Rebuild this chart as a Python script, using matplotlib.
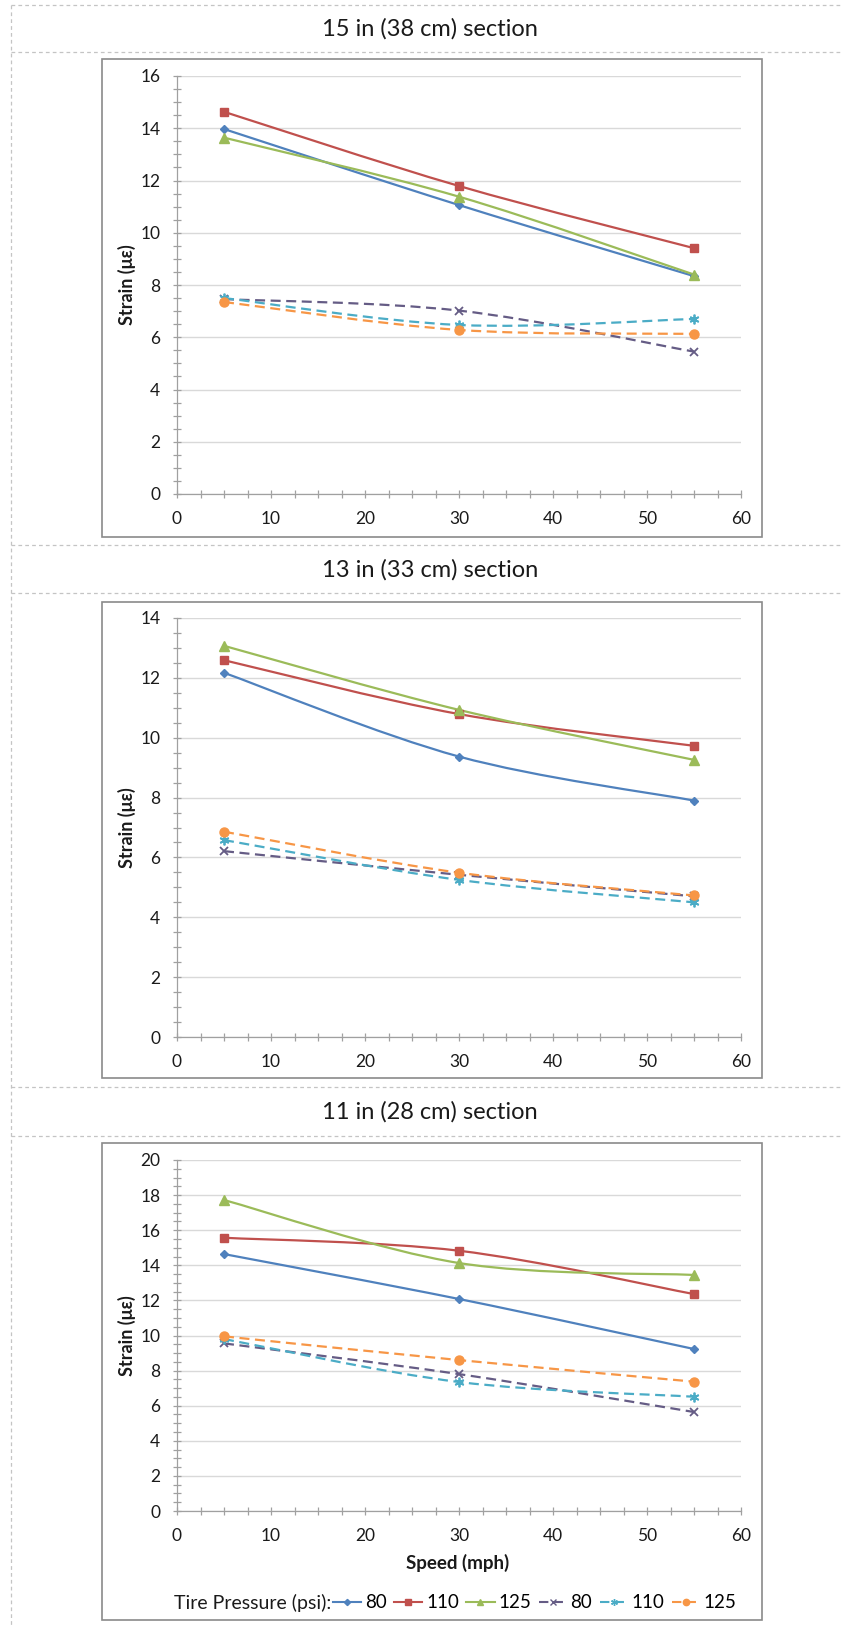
import matplotlib
matplotlib.use('Agg')
import matplotlib.pyplot as plt
from matplotlib.path import Path
from matplotlib.patches import PathPatch, Rectangle
from matplotlib.lines import Line2D
from matplotlib.ticker import MultipleLocator
import numpy as np

plt.rcParams['font.family'] = ['Lato', 'DejaVu Sans']

# ---------------- data ----------------
speed = [5, 30, 55]
titles = ['15 in (38 cm) section', '13 in (33 cm) section', '11 in (28 cm) section']
legend_labels = ['80', '110', '125', '80', '110', '125']
ylims = [16, 14, 20]

# 15 in (38 cm) section
s15_solid_80 = [13.97, 11.06, 8.34]
s15_solid_110 = [14.63, 11.79, 9.41]
s15_solid_125 = [13.64, 11.38, 8.40]
s15_dash_80 = [7.46, 7.02, 5.45]
s15_dash_110 = [7.50, 6.47, 6.70]
s15_dash_125 = [7.35, 6.28, 6.13]

# 13 in (33 cm) section
s13_solid_80 = [12.17, 9.37, 7.90]
s13_solid_110 = [12.59, 10.79, 9.73]
s13_solid_125 = [13.07, 10.93, 9.26]
s13_dash_80 = [6.21, 5.42, 4.70]
s13_dash_110 = [6.58, 5.25, 4.50]
s13_dash_125 = [6.86, 5.49, 4.73]

# 11 in (28 cm) section
s11_solid_80 = [14.64, 12.08, 9.23]
s11_solid_110 = [15.57, 14.83, 12.36]
s11_solid_125 = [17.72, 14.13, 13.45]
s11_dash_80 = [9.55, 7.80, 5.64]
s11_dash_110 = [9.80, 7.35, 6.51]
s11_dash_125 = [9.95, 8.60, 7.37]

panels = [
    [s15_solid_80, s15_solid_110, s15_solid_125, s15_dash_80, s15_dash_110, s15_dash_125],
    [s13_solid_80, s13_solid_110, s13_solid_125, s13_dash_80, s13_dash_110, s13_dash_125],
    [s11_solid_80, s11_solid_110, s11_solid_125, s11_dash_80, s11_dash_110, s11_dash_125],
]

# ---------------- styles ----------------
colors = ['#4F81BD', '#C0504D', '#9BBB59', '#655C85', '#4BACC6', '#F79646']
styles = ['-', '-', '-', (0, (4.5, 2.5)), (0, (4.5, 2.5)), (0, (4.5, 2.5))]
markers = ['D', 's', '^', 'x', (6, 2, 0), 'o']
msizes = [4.5, 6, 6.5, 6, 7, 6.5]

W, H = 843, 1625
fig = plt.figure(figsize=(W / 100, H / 100), dpi=100)


def fx(x):
    return x / W


def fy(y):
    return 1 - y / H


def smooth(ax, xs, ys, color, ls):
    pts = np.column_stack([xs, ys]).astype(float)
    n = len(pts)
    verts = [pts[0]]
    codes = [Path.MOVETO]
    for i in range(n - 1):
        p0 = pts[i - 1] if i > 0 else pts[i]
        p1 = pts[i]
        p2 = pts[i + 1]
        p3 = pts[i + 2] if i + 2 < n else pts[i + 1]
        c1 = p1 + (p2 - p0) / 6.0
        c2 = p2 - (p3 - p1) / 6.0
        verts += [c1, c2, p2]
        codes += [Path.CURVE4] * 3
    patch = PathPatch(Path(verts, codes), facecolor='none', edgecolor=color,
                      lw=1.6, linestyle=ls, transform=ax.transData, zorder=3)
    ax.add_patch(patch)


# separators (dashed light gray)
for y in [5, 52, 545, 593, 1087, 1136]:
    fig.add_artist(Line2D([fx(11), 1], [fy(y), fy(y)], color='#c4c4c4', lw=0.9,
                          linestyle=(0, (3, 2.5)), transform=fig.transFigure))
fig.add_artist(Line2D([fx(11), fx(11)], [fy(5), 0], color='#c4c4c4', lw=0.9,
                      linestyle=(0, (3, 2.5)), transform=fig.transFigure))

# chart boxes
boxes = [(59, 537), (602, 1078), (1143, 1620)]
for top, bot in boxes:
    fig.add_artist(Rectangle((fx(102), fy(bot)), fx(762) - fx(102), fy(top) - fy(bot),
                             facecolor='none', edgecolor='#8a8a8a', lw=1.2,
                             transform=fig.transFigure))

title_y = [29, 570, 1112]
axes_pix = [(76, 494), (618, 1037), (1160, 1511)]

for k in range(3):
    top, bot = axes_pix[k]
    ax = fig.add_axes([fx(177), fy(bot), fx(741) - fx(177), fy(top) - fy(bot)])
    ax.set_xlim(0, 60)
    ax.set_ylim(0, ylims[k])
    for j in range(6):
        smooth(ax, speed, panels[k][j], colors[j], styles[j])
        ax.plot(speed, panels[k][j], linestyle='none', marker=markers[j],
                markersize=msizes[j], color=colors[j], mec=colors[j],
                mew=1.3 if j in (3, 4) else 1.0, zorder=4, clip_on=False)
    ax.xaxis.set_major_locator(MultipleLocator(10))
    ax.xaxis.set_minor_locator(MultipleLocator(2.5))
    ax.yaxis.set_major_locator(MultipleLocator(2))
    ax.yaxis.set_minor_locator(MultipleLocator(0.5))
    ax.grid(axis='y', which='major', color='#d9d9d9', lw=1.0, zorder=0)
    ax.set_axisbelow(True)
    for s in ['top', 'right']:
        ax.spines[s].set_visible(False)
    for s in ['left', 'bottom']:
        ax.spines[s].set_color('#a0a0a0')
        ax.spines[s].set_linewidth(0.9)
    ax.tick_params(axis='both', which='both', direction='inout', length=6,
                   color='#a0a0a0', width=0.9)
    ax.tick_params(axis='x', which='major', labelsize=12.5, pad=9, labelcolor='#1a1a1a')
    ax.tick_params(axis='y', which='major', labelsize=12.5, pad=9, labelcolor='#1a1a1a')
    fig.text(fx(430), fy(title_y[k]), titles[k], ha='center', va='center',
             fontsize=17, color='#1a1a1a')
    fig.text(fx(127), fy((top + bot) / 2), 'Strain (\u03bc\u03b5)', rotation=90,
             ha='center', va='center', fontsize=13, fontweight='bold', color='#1a1a1a')

fig.text(fx(458), fy(1563), 'Speed (mph)', ha='center', va='center',
         fontsize=13.5, fontweight='bold', color='#1a1a1a')

fig.text(fx(331), fy(1603), 'Tire Pressure (psi):', ha='right', va='center',
         fontsize=14, color='#1a1a1a')
handles = [Line2D([], [], color=colors[j], linestyle=styles[j], marker=markers[j],
                  markersize=msizes[j] * 0.7, lw=1.5, mew=1.0) for j in range(6)]
fig.legend(handles, legend_labels, loc='center left',
           bbox_to_anchor=(fx(333), fy(1603)), ncol=6, frameon=False,
           fontsize=13.5, handlelength=1.5, handletextpad=0.2, columnspacing=0.4,
           borderpad=0, borderaxespad=0)

fig.savefig('out.png', dpi=100)
